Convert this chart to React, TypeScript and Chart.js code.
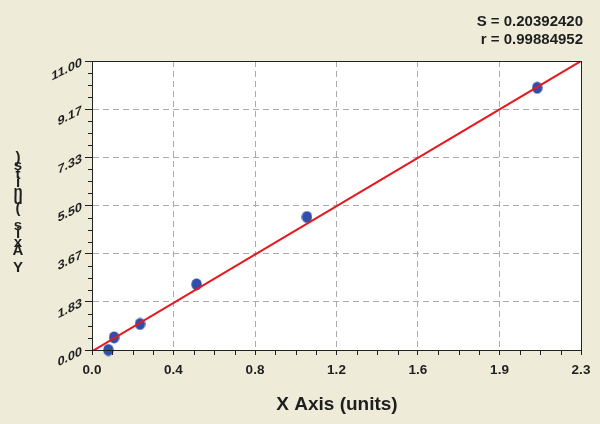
import React, { useEffect, useRef } from 'react';
import { Chart, registerables } from 'chart.js';

Chart.register(...registerables);

// ---- data ----
const xData = [0.077, 0.104, 0.226, 0.492, 1.011, 2.094];
const yData = [0.0, 0.48, 0.99, 2.5, 5.06, 9.98];
const fitX = [0, 2.3];
const fitY = [-0.05, 11.0];
const xTickValues = [0, 0.38333, 0.76667, 1.15, 1.53333, 1.91667, 2.3];
const xTickLabels = ['0.0', '0.4', '0.8', '1.2', '1.6', '1.9', '2.3'];
const yTickValues = [0, 1.83333, 3.66667, 5.5, 7.33333, 9.16667, 11];
const yTickLabels = ['0.00', '1.83', '3.67', '5.50', '7.33', '9.17', '11.00'];
const statLines = ['S = 0.20392420', 'r = 0.99884952'];
const xTitle = 'X Axis (units)';
const yTitle = 'Y Axis (units)';

// ---- styles ----
const BG = '#eeecd9';
const TEXT = '#1e1e1e';
const AXIS = '#222222';
const GRID = '#ababab';
const POINT = '#2f4fab';
const LINE = '#e8191e';
const FONT = '"Liberation Sans", Arial, sans-serif';

function makeDot(): HTMLCanvasElement {
  const c = document.createElement('canvas');
  c.width = 11;
  c.height = 13;
  const g = c.getContext('2d')!;
  g.fillStyle = POINT;
  g.beginPath();
  g.ellipse(5.5, 6.5, 5.2, 6, 0, 0, Math.PI * 2);
  g.fill();
  return c;
}

const decor = {
  id: 'decor',
  beforeDraw(chart: any) {
    const { ctx, chartArea: a } = chart;
    ctx.save();
    ctx.fillStyle = BG;
    ctx.fillRect(0, 0, chart.width, chart.height);
    ctx.fillStyle = '#ffffff';
    ctx.fillRect(a.left, a.top, a.right - a.left, a.bottom - a.top);
    ctx.restore();
  },
  afterDraw(chart: any) {
    const { ctx, chartArea: a } = chart;
    const xs = chart.scales.x;
    const ys = chart.scales.y;
    ctx.save();
    // minor ticks
    ctx.strokeStyle = AXIS;
    ctx.lineWidth = 1;
    ctx.beginPath();
    for (let i = 0; i < xTickValues.length - 1; i++) {
      const v0 = xTickValues[i];
      const v1 = xTickValues[i + 1];
      for (let k = 1; k < 4; k++) {
        const px = Math.round(xs.getPixelForValue(v0 + ((v1 - v0) * k) / 4)) + 0.5;
        ctx.moveTo(px, a.bottom);
        ctx.lineTo(px, a.bottom + 5);
      }
    }
    for (let i = 0; i < yTickValues.length - 1; i++) {
      const v0 = yTickValues[i];
      const v1 = yTickValues[i + 1];
      for (let k = 1; k < 4; k++) {
        const py = Math.round(ys.getPixelForValue(v0 + ((v1 - v0) * k) / 4)) + 0.5;
        ctx.moveTo(a.left, py);
        ctx.lineTo(a.left - 4, py);
      }
    }
    ctx.stroke();
    // plot frame
    ctx.strokeStyle = AXIS;
    ctx.strokeRect(Math.round(a.left) + 0.5, Math.round(a.top) + 0.5, Math.round(a.right - a.left), Math.round(a.bottom - a.top));

    // y tick labels: sheared (baseline rising to the right, glyphs upright)
    ctx.fillStyle = TEXT;
    ctx.font = `bold 12.5px ${FONT}`;
    ctx.textAlign = 'right';
    ctx.textBaseline = 'middle';
    yTickValues.forEach((v, i) => {
      const py = ys.getPixelForValue(v);
      ctx.save();
      ctx.translate(a.left - 10, py + 1);
      ctx.transform(1, -0.5, 0, 1, 0, 0);
      ctx.fillText(yTickLabels[i], 0, 0);
      ctx.restore();
    });

    // stats
    ctx.font = `bold 15px ${FONT}`;
    ctx.textAlign = 'right';
    ctx.textBaseline = 'middle';
    ctx.fillText(statLines[0], 583, 22);
    ctx.fillText(statLines[1], 583, 40);

    // x title
    ctx.font = `bold 19px ${FONT}`;
    ctx.textAlign = 'center';
    ctx.fillText(xTitle, (a.left + a.right) / 2 + 0.5, 405);

    // y title: characters stacked upward
    ctx.font = `bold 15px ${FONT}`;
    const chars = Array.from(yTitle);
    chars.forEach((ch, i) => {
      ctx.fillText(ch, 18, 268 - i * 8.5);
    });
    ctx.restore();
  },
};

export default function App() {
  const ref = useRef<HTMLCanvasElement | null>(null);

  useEffect(() => {
    document.body.style.margin = '0';
    const canvas = ref.current!;
    const dot = makeDot();
    const chart = new Chart(canvas, {
      type: 'scatter',
      data: {
        datasets: [
          {
            type: 'line',
            label: 'fit',
            data: fitX.map((x, i) => ({ x, y: fitY[i] })),
            borderColor: LINE,
            borderWidth: 2,
            pointRadius: 0,
            fill: false,
            tension: 0,
          },
          {
            type: 'scatter',
            label: 'points',
            data: xData.map((x, i) => ({ x, y: yData[i] })),
            pointStyle: dot as any,
            pointRadius: 6,
            backgroundColor: POINT,
            borderColor: POINT,
            clip: false as any,
          },
        ],
      },
      options: {
        responsive: false,
        animation: false,
        devicePixelRatio: 1,
        layout: { padding: { top: 61, right: 19, left: 0, bottom: 0 } },
        plugins: { legend: { display: false }, tooltip: { enabled: false }, title: { display: false } },
        scales: {
          x: {
            type: 'linear',
            min: 0,
            max: 2.3,
            afterBuildTicks: (s: any) => {
              s.ticks = xTickValues.map((v) => ({ value: v }));
            },
            afterFit: (s: any) => {
              s.height = 74;
            },
            ticks: {
              callback: (_v: any, i: number) => xTickLabels[i],
              color: TEXT,
              font: { family: FONT, size: 13.5, weight: 'bold' },
              padding: 7,
              maxRotation: 0,
              minRotation: 0,
              autoSkip: false,
            },
            grid: {
              color: GRID,
              lineWidth: 1,
              tickColor: AXIS,
              tickLength: 5,
              tickBorderDash: [],
            },
            border: { display: true, color: AXIS, width: 1, dash: [6, 4] },
          },
          y: {
            type: 'linear',
            min: 0,
            max: 11,
            afterBuildTicks: (s: any) => {
              s.ticks = yTickValues.map((v) => ({ value: v }));
            },
            afterFit: (s: any) => {
              s.width = 92;
            },
            ticks: {
              display: false,
              autoSkip: false,
            },
            grid: {
              color: GRID,
              lineWidth: 1,
              tickColor: AXIS,
              tickLength: 7,
              tickBorderDash: [],
            },
            border: { display: true, color: AXIS, width: 1, dash: [6, 4] },
          },
        },
      },
      plugins: [decor],
    });
    return () => chart.destroy();
  }, []);

  return (
    <div style={{ position: 'fixed', left: 0, top: 0, width: 600, height: 424 }}>
      <canvas ref={ref} width={600} height={424} style={{ width: 600, height: 424, display: 'block' }} />
    </div>
  );
}
